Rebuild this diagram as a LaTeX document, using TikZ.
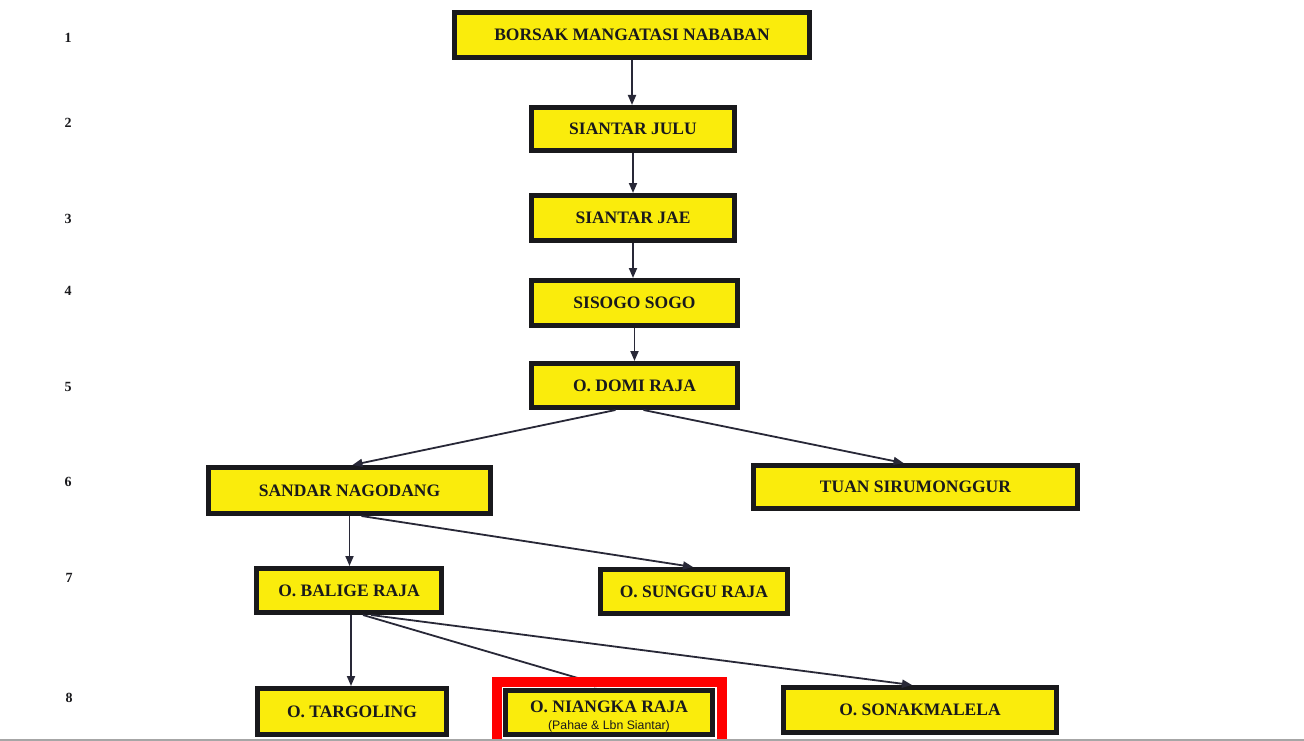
\documentclass[tikz,border=0pt]{standalone}
\usepackage{fontspec}
\setmainfont{Liberation Serif}
\newfontfamily\subfont{Liberation Sans}
\usetikzlibrary{arrows.meta}
\definecolor{boxyellow}{RGB}{250,236,12}
\definecolor{ink}{RGB}{25,25,28}
\definecolor{lineink}{RGB}{40,40,55}
\tikzset{
  famBox/.style={draw=ink, line width=5pt, fill=boxyellow, inner sep=0pt, text=ink,
    font=\fontsize{17.5}{19}\selectfont\bfseries},
  rowNum/.style={text=ink, font=\fontsize{14}{15}\selectfont\bfseries},
  link/.style={draw=lineink, line width=1.8pt, -{Triangle[length=10pt,width=8pt]}},
}
\begin{document}
\begin{tikzpicture}[x=1pt,y=-1pt]
\useasboundingbox[fill=white] (0,0) rectangle (1304,741);
% row numbers
\node[rowNum] (r1) at (68,38) {1};
\node[rowNum] (r2) at (68,123) {2};
\node[rowNum] (r3) at (68,219) {3};
\node[rowNum] (r4) at (68,291) {4};
\node[rowNum] (r5) at (68,387) {5};
\node[rowNum] (r6) at (68,482) {6};
\node[rowNum] (r7) at (69,578) {7};
\node[rowNum] (r8) at (69,698) {8};
% boxes
\node[famBox, minimum width=355, minimum height=45] (borsak) at (632,35) {BORSAK MANGATASI NABABAN};
\node[famBox, minimum width=203, minimum height=43] (julu) at (633,129) {SIANTAR JULU};
\node[famBox, minimum width=203, minimum height=45] (jae) at (633,218) {SIANTAR JAE};
\node[famBox, minimum width=206, minimum height=45] (sisogo) at (634.5,303) {SISOGO SOGO};
\node[famBox, minimum width=206, minimum height=44] (domi) at (634.5,385.5) {O. DOMI RAJA};
\node[famBox, minimum width=282, minimum height=46] (sandar) at (349.5,490.5) {SANDAR NAGODANG};
\node[famBox, minimum width=324, minimum height=43] (tuan) at (915.5,487) {TUAN SIRUMONGGUR};
\node[famBox, minimum width=185, minimum height=44] (balige) at (349,590.5) {O. BALIGE RAJA};
\node[famBox, minimum width=187, minimum height=44] (sunggu) at (694,591.5) {O. SUNGGU RAJA};
\node[famBox, minimum width=189, minimum height=46] (targoling) at (352,711.5) {O. TARGOLING};
\node[famBox, minimum width=273, minimum height=45] (sonak) at (920,710) {O. SONAKMALELA};
\node[famBox, minimum width=207, minimum height=44, align=center] (niangka) at (609,712.5)
  {\rule{0pt}{20pt}O. NIANGKA RAJA\\[-2pt]{\subfont\mdseries\fontsize{12.3}{13}\selectfont (Pahae \& Lbn Siantar)}};
% connectors
\draw[link] (borsak.south) -- (borsak.south |- julu.north);
\draw[link] (julu.south) -- (julu.south |- jae.north);
\draw[link] (jae.south) -- (jae.south |- sisogo.north);
\draw[link] (sisogo.south) -- (sisogo.south |- domi.north);
\draw[link] ([xshift=-19pt]domi.south) -- ([xshift=3pt]sandar.north);
\draw[link] ([xshift=9pt]domi.south) -- ([xshift=-12pt]tuan.north);
\draw[link] (sandar.south) -- (sandar.south |- balige.north);
\draw[link] ([xshift=12pt]sandar.south) -- ([xshift=-1pt]sunggu.north);
\draw[link] ([xshift=2pt]balige.south) -- ([xshift=2pt]balige.south |- targoling.north);
\draw[link] ([xshift=14pt]balige.south) -- ([xshift=-4pt,yshift=2pt]niangka.north);
\draw[link] ([xshift=22pt]balige.south) -- ([xshift=-8pt]sonak.north);
% highlight frame round the node
\draw[red, line width=10pt] (497,682) rectangle (722,748);
% scan edge
\draw[gray!70, line width=2pt] (0,739.5) -- (1304,739.5);
\end{tikzpicture}
\end{document}
